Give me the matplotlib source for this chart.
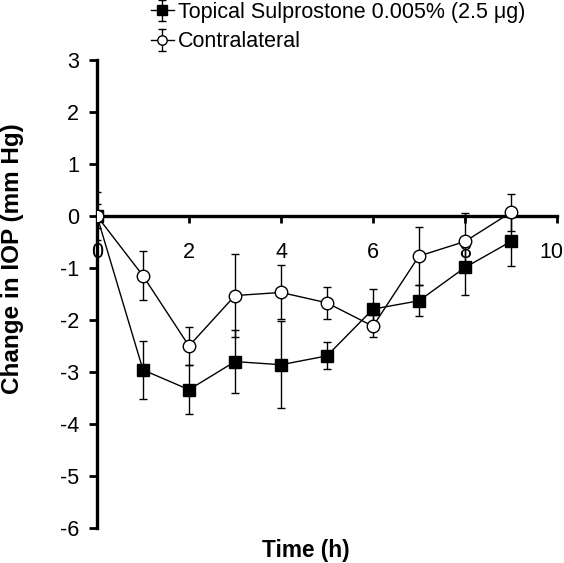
import matplotlib.pyplot as plt
import matplotlib.transforms as mtransforms
import numpy as np

plt.rcParams['font.family'] = ['Liberation Sans', 'DejaVu Sans']
plt.rcParams['axes.unicode_minus'] = False

# time points (h)
hours = [0, 1, 2, 3, 4, 5, 6, 7, 8, 9]

# topical sulprostone (filled squares)
topical = [0.0, -2.96, -3.34, -2.80, -2.86, -2.69, -1.79, -1.63, -0.99, -0.49]
topical_err = [0.47, 0.55, 0.47, 0.60, 0.84, 0.26, 0.38, 0.30, 0.52, 0.47]

# contralateral eye (open circles)
contra = [0.0, -1.15, -2.50, -1.53, -1.47, -1.67, -2.12, -0.77, -0.49, 0.07]
contra_err = [0.24, 0.47, 0.36, 0.79, 0.52, 0.31, 0.21, 0.55, 0.55, 0.35]

y_ticks = [-6, -5, -4, -3, -2, -1, 0, 1, 2, 3]
x_ticks = [0, 2, 4, 6, 8, 10]

fig = plt.figure(figsize=(5.64, 5.63), dpi=100)
ax = fig.add_axes([97 / 564, 1 - 528 / 563, 460 / 564, 468 / 563])

ax.errorbar(hours, topical, yerr=topical_err, color='black', lw=1.0, elinewidth=1.0,
			capsize=3, capthick=1.0, marker='s', ms=9, mfc='black', mec='black',
			label='Topical Sulprostone 0.005% (2.5 μg)', zorder=3)
ax.errorbar(hours, contra, yerr=contra_err, color='black', lw=1.0, elinewidth=1.0,
			capsize=3, capthick=1.0, marker='o', ms=9, mfc='white', mec='black', mew=1.0,
			label='Contralateral', zorder=4)

ax.set_xlim(0, 10)
ax.set_ylim(-6, 3)
ax.set_xticks(x_ticks)
ax.set_yticks(y_ticks)

ax.spines['top'].set_visible(False)
ax.spines['right'].set_visible(False)
ax.spines['bottom'].set_position(('data', 0))
ax.spines['left'].set_linewidth(2.4)
ax.spines['bottom'].set_linewidth(2.4)
ax.spines['bottom'].set_zorder(2)

ax.tick_params(axis='y', direction='out', length=6, width=2, labelsize=15.5, pad=7)
ax.tick_params(axis='x', direction='out', length=5, width=2, labelsize=15.5, pad=14)

# last x label sits a little left so it stays inside the figure
last = ax.get_xticklabels()[-1]
last.set_transform(last.get_transform() + mtransforms.ScaledTranslation(-0.06, 0, fig.dpi_scale_trans))

fig.text(13 / 564, 1 - 259 / 563, 'Change in IOP (mm Hg)', rotation=90, fontsize=17.5,
		 fontweight='bold', ha='center', va='center')
fig.text(306 / 564, 1 - 550 / 563, 'Time (h)', fontsize=16.3, fontweight='bold',
		 ha='center', va='center')

handles, labels = ax.get_legend_handles_labels()
fig.legend(handles, labels, loc='upper left', bbox_to_anchor=(142 / 564, 1.012),
		   frameon=False, fontsize=15.5, handlelength=1.1, handletextpad=0.15,
		   labelspacing=0.4, markerscale=0.75, borderaxespad=0)

plt.savefig('out.png', dpi=100)
